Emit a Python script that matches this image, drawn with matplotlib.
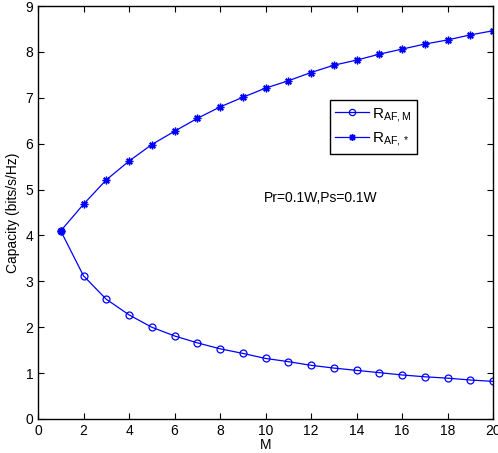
import matplotlib
matplotlib.use("Agg")
import matplotlib.pyplot as plt

plt.rcParams['font.family'] = ['Liberation Sans', 'DejaVu Sans']
plt.rcParams['mathtext.fontset'] = 'custom'
plt.rcParams['mathtext.rm'] = 'Liberation Sans'
plt.rcParams['mathtext.it'] = 'Liberation Sans'

# capacity vs. number of relays M
M = list(range(1, 21))
r_af_m = [4.10, 3.12, 2.61, 2.27, 2.00, 1.81, 1.66, 1.53, 1.43, 1.32,
          1.25, 1.17, 1.11, 1.06, 1.01, 0.96, 0.92, 0.89, 0.85, 0.82]
r_af_star = [4.10, 4.68, 5.21, 5.62, 5.98, 6.27, 6.55, 6.80, 7.01, 7.21,
             7.37, 7.55, 7.71, 7.82, 7.95, 8.06, 8.17, 8.26, 8.37, 8.46]

fig = plt.figure(figsize=(4.98, 4.53), dpi=100)
ax = fig.add_axes([38/498, 34/453, 455/498, 413/453])

ax.plot(M, r_af_m, color='blue', lw=0.9, marker='o', ms=5,
        mfc='none', mec='blue', mew=0.9, label=r'R$_{\mathrm{AF,M}}$')
# 8-spoke asterisk marker
ax.plot(M, r_af_star, color='blue', lw=0.9, marker=(8, 2, 0), ms=5.5,
        mec='blue', mew=1.0, label=r'R$_{\mathrm{AF,*}}$')

ax.set_xlim(0, 20)
ax.set_ylim(0, 9)
ax.set_xticks(range(0, 21, 2))
ax.set_yticks(range(0, 10))
ax.tick_params(direction='in', top=True, right=True, labelsize=10, length=4, width=0.8)
for s in ax.spines.values():
    s.set_linewidth(1.0)

ax.set_xlabel('M', fontsize=10, labelpad=0)
ax.set_ylabel('Capacity (bits/s/Hz)', fontsize=10, labelpad=4)

ax.text(9.93, 4.81, 'Pr=0.1W,Ps=0.1W', fontsize=10, ha='left', va='center')

leg = ax.legend(loc='upper left', bbox_to_anchor=(0.641, 0.772), fontsize=11,
                fancybox=False, edgecolor='black', framealpha=1,
                handlelength=2.2, borderpad=0.35, labelspacing=0.45,
                handletextpad=0.2, borderaxespad=0, markerscale=0.9)
leg.get_frame().set_linewidth(1.0)

fig.savefig('out.png', dpi=100)
